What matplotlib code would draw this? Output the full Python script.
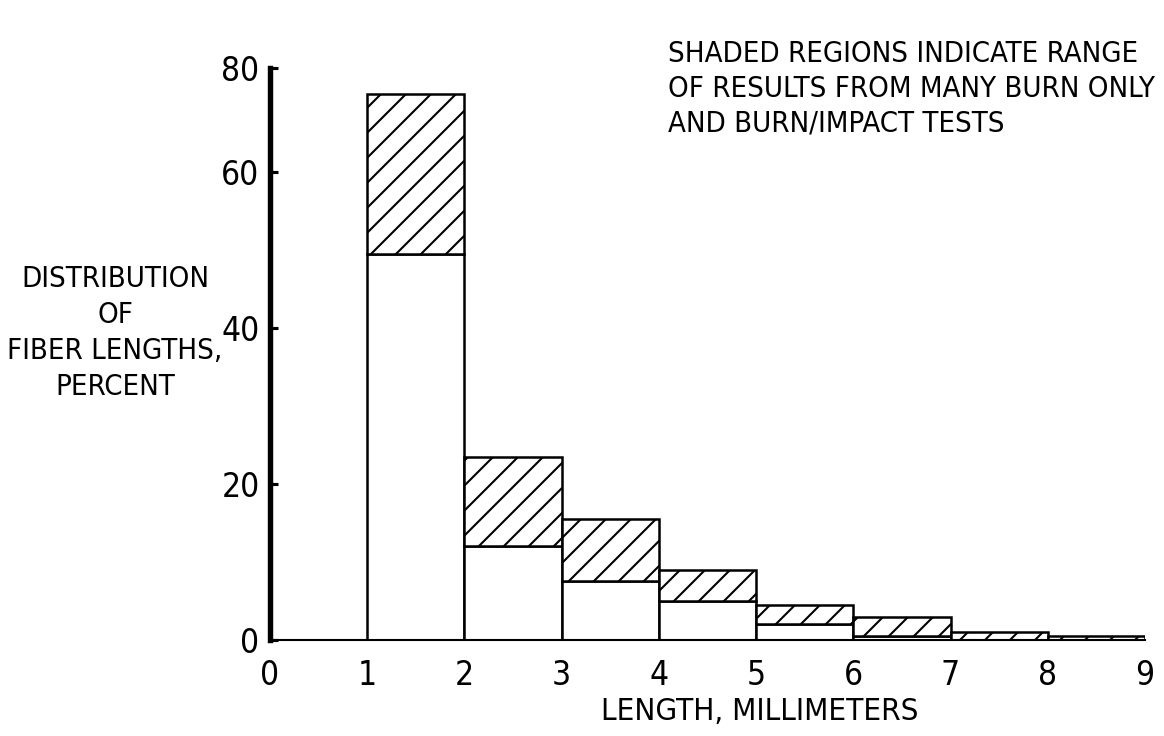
import numpy as np
import matplotlib.pyplot as plt

# fiber length bins (mm) and range of results (percent)
bin_left = [1, 2, 3, 4, 5, 6, 7, 8]
low = [49.5, 12, 7.5, 5, 2, 0.5, 0, 0]
high = [70, 23.5, 15.5, 9, 4.5, 3, 1, 0.5]

xticks = [0, 1, 2, 3, 4, 5, 6, 7, 8, 9]
ytop = 73.3
yticks = [0, 20, 40, 60, ytop]
ylabels = ['0', '20', '40', '60', '80']

plt.rcParams['font.family'] = ['DejaVu Sans']
plt.rcParams['font.stretch'] = 'condensed'
plt.rcParams['hatch.linewidth'] = 1.0

fig = plt.figure(figsize=(1164 / 150, 736 / 150), dpi=150)
ax = fig.add_axes([270 / 1164, 96 / 736, 875 / 1164, 572 / 736])

low = np.array(low)
high = np.array(high)
ax.bar(bin_left, low, width=1, align='edge', facecolor='white',
       edgecolor='black', linewidth=1.2)
ax.bar(bin_left, high - low, bottom=low, width=1, align='edge',
       facecolor='white', edgecolor='black', linewidth=1.2, hatch='//')

ax.set_xlim(0, 9)
ax.set_ylim(0, ytop)
ax.set_xticks(xticks)
ax.set_yticks(yticks)
ax.set_yticklabels(ylabels)
ax.tick_params(axis='x', length=0, pad=9, labelsize=16)
ax.tick_params(axis='y', direction='in', length=4, width=1.5, pad=5, labelsize=16)

for s in ['top', 'right']:
    ax.spines[s].set_visible(False)
ax.spines['left'].set_linewidth(2.6)
ax.spines['bottom'].set_linewidth(1.0)

fig.text(760 / 1164, 1 - 712 / 736, 'LENGTH, MILLIMETERS', ha='center',
         va='center', fontsize=15)
fig.text(115 / 1164, 1 - 333 / 736, 'DISTRIBUTION\nOF\nFIBER LENGTHS,\nPERCENT',
         ha='center', va='center', fontsize=14, linespacing=1.35)
fig.text(668 / 1164, 1 - 40 / 736,
         'SHADED REGIONS INDICATE RANGE\nOF RESULTS FROM MANY BURN ONLY\nAND BURN/IMPACT TESTS',
         ha='left', va='top', fontsize=14, linespacing=1.3)

fig.savefig('out.png', dpi=150)
